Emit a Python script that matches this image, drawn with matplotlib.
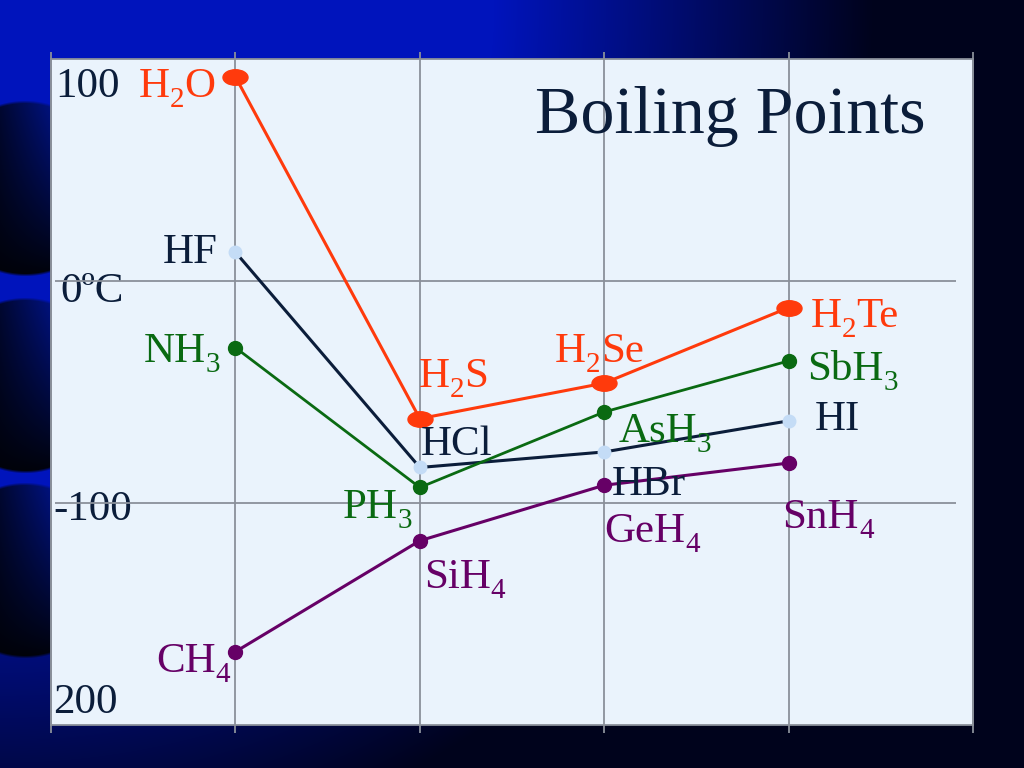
import numpy as np
import matplotlib.pyplot as plt
from matplotlib.path import Path
from matplotlib.transforms import Affine2D

plt.rcParams['font.family'] = ['Liberation Serif', 'DejaVu Serif']

# period 2..5 placed at columns 1..4
period = [1, 2, 3, 4]

group16 = [92, -62, -46, -12]
group17 = [13, -84, -77, -63]
group15 = [-30, -93, -59, -36]
group14 = [-167, -117, -92, -82]

# "_" marks the next character as a subscript
names16 = ['H_2O', 'H_2S', 'H_2Se', 'H_2Te']
names17 = ['HF', 'HCl', 'HBr', 'HI']
names15 = ['NH_3', 'PH_3', 'AsH_3', 'SbH_3']
names14 = ['CH_4', 'SiH_4', 'GeH_4', 'SnH_4']

ytick_vals = [100, 0, -100, -200]
ytick_labels = ['100', '0ºC', '-100', '200']

# label offsets in pixels (dx, dy, ha)
off16 = [(-20, -20, 'right'), (-1, 32, 'left'), (-49, 21, 'left'), (22, -19, 'left')]
off17 = [(-18, -11, 'right'), (1, 12, 'left'), (8, -43, 'left'), (26, -9, 'left')]
off15 = [(-15, -14, 'right'), (-8, -31, 'right'), (14, -30, 'left'), (19, -19, 'left')]
off14 = [(-5, -20, 'right'), (4, -47, 'left'), (0, -57, 'left'), (-6, -65, 'left')]
tick_off = [(4, -38), (9, -21), (2, -17), (2, 12)]

RED = '#ff3a0c'
NAVY = '#0b1d3a'
GREEN = '#0a6a12'
PURPLE = '#660066'
LIGHT = '#c4dcf6'
FS = 31
FS_SUB = 21

fig = plt.figure(figsize=(10.24, 7.68), dpi=100)
renderer = fig.canvas.get_renderer()

# slide background
H, W = 768, 1024
yy, xx = np.mgrid[0:H, 0:W].astype(float)
d = np.sqrt((xx / 760.0) ** 2 + (yy / 760.0) ** 2)
I = np.clip((1.15 - d) / 0.5, 0, 1)
img = np.zeros((H, W, 3))
img[..., 1] = (3 + 17 * I) / 255
img[..., 2] = (28 + 160 * I) / 255
for cy in [188, 385, 570]:
    cx, r = 25, 88
    dist = np.sqrt((xx - cx) ** 2 + (yy - cy) ** 2)
    m = np.clip((r - dist) / 3.0, 0, 1)
    s = np.clip((yy - (cy - r)) / (2 * r), 0, 1)
    side = 0.35 + 0.65 * np.clip(xx / 50.0, 0, 1)
    blue = (8 + 120 * (1 - s) ** 0.9 * side) / 255
    green = (2 + 16 * (1 - s) ** 0.9 * side) / 255
    img[..., 2] = m * blue + (1 - m) * img[..., 2]
    img[..., 1] = m * green + (1 - m) * img[..., 1]
bg = fig.add_axes([0, 0, 1, 1])
bg.imshow(img, aspect='auto', extent=[0, W, H, 0])
bg.set_axis_off()

ax = fig.add_axes([51 / 1024, 43 / 768, 922 / 1024, 666 / 768])
ax.set_facecolor('#eaf3fc')
ax.set_xlim(0, 5)
ax.set_ylim(-200, 100)
ax.set_xticks([])
ax.set_yticks([])
for sp in ax.spines.values():
    sp.set_color('#8a909a')
    sp.set_linewidth(1.3)

ax.vlines(period, -203.6, 103.2, color='#8a909a', lw=1.3, clip_on=False, zorder=1)
ax.vlines([0, 5], -203.6, 103.2, color='#8a909a', lw=1.3, clip_on=False, zorder=1)
ax.hlines([0, -100], 0.022, 4.91, color='#8a909a', lw=1.3, zorder=3)

for v, lab, (dx, dy) in zip(ytick_vals, ytick_labels, tick_off):
    ax.annotate(lab, (0, v), xytext=(dx, dy), textcoords='offset pixels',
                ha='left', va='baseline', fontsize=FS, color=NAVY, zorder=2,
                annotation_clip=False)

ell = Path(Affine2D().scale(1.0, 0.62).transform(Path.unit_circle().vertices),
           Path.unit_circle().codes)

ax.plot(period, group16, color=RED, lw=2.2, marker=ell, ms=18, zorder=4)
ax.plot(period, group17, color=NAVY, lw=2.2, zorder=4)
ax.plot(period, group17, ls='none', marker='o', ms=10, mfc=LIGHT, mec='none', zorder=5)
ax.plot(period, group15, color=GREEN, lw=2.0, marker='o', ms=10, zorder=4)
ax.plot(period, group14, color=PURPLE, lw=2.2, marker='o', ms=10, zorder=4)


def pieces(name):
    out = []
    i = 0
    while i < len(name):
        if name[i] == '_':
            out.append((name[i + 1], True))
            i += 2
        else:
            if out and not out[-1][1]:
                out[-1] = (out[-1][0] + name[i], False)
            else:
                out.append((name[i], False))
            i += 1
    return out


def chem_label(x, y, name, dx, dy, ha, color):
    texts = []
    for s, sub in pieces(name):
        t = ax.annotate(s, (x, y), xytext=(0, 0), textcoords='offset pixels',
                        ha='left', va='baseline', color=color, zorder=6,
                        fontsize=FS_SUB if sub else FS)
        texts.append((t, sub, t.get_window_extent(renderer).width))
    total = sum(w for _, _, w in texts)
    cur = dx - total if ha == 'right' else dx
    for t, sub, w in texts:
        t.set_position((cur, dy - 10 if sub else dy))
        cur += w


for vals, names, offs, col in [(group16, names16, off16, RED),
                                (group17, names17, off17, NAVY),
                                (group15, names15, off15, GREEN),
                                (group14, names14, off14, PURPLE)]:
    for x, v, n, (dx, dy, ha) in zip(period, vals, names, offs):
        chem_label(x, v, n, dx, dy, ha, col)

fig.text(535 / 1024, 1 - 133 / 768, 'Boiling Points', fontsize=49,
         color=NAVY, ha='left', va='baseline')

fig.savefig('out.png', dpi=100)
